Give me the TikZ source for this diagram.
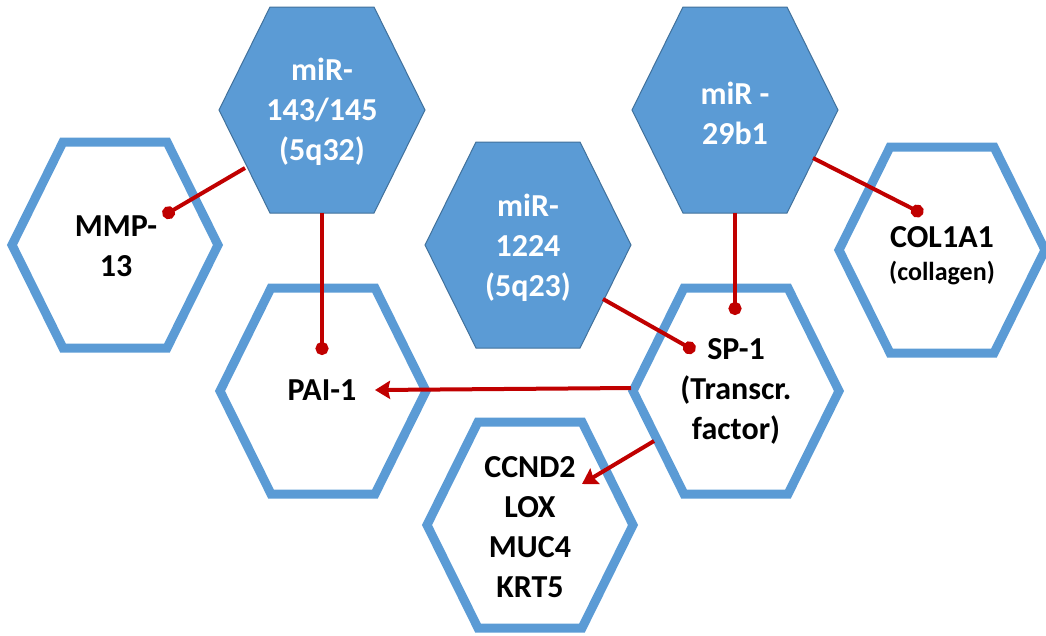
\documentclass[tikz,border=0pt]{standalone}
\usepackage{fontspec}
\setmainfont{Carlito}
\usetikzlibrary{arrows.meta}
\definecolor{hexblue}{HTML}{5B9BD5}
\definecolor{hexedge}{HTML}{41719C}
\definecolor{linkred}{HTML}{C00000}
\tikzset{
	mirhex/.style={fill=hexblue, draw=hexedge, line width=1pt},
	genehex/.style={draw=hexblue, line width=9pt, line join=miter},
	mirtext/.style={text=white, font=\fontsize{32}{40}\selectfont\bfseries, align=center},
	genetext/.style={text=black, font=\fontsize{32}{40}\selectfont\bfseries, align=center},
	inhibit/.style={draw=linkred, line width=4pt, -{Circle[length=13pt]}},
	activate/.style={draw=linkred, line width=4pt, -{Stealth[length=15pt,width=18pt,inset=2pt]}}
}
\newcommand{\hexa}[1]{([shift={(-103,0)}]#1) -- ++(51,-103) -- ++(104,0) -- ++(51,103) -- ++(-51,103) -- ++(-104,0) -- cycle}
\begin{document}
\begin{tikzpicture}[x=1pt, y=-1pt]
				\useasboundingbox (0,0) rectangle (1046,635);
				% hexagon centres
				\coordinate (M143) at (322,110);
				\coordinate (M1224) at (528,245);
				\coordinate (M29) at (735,110);
				\coordinate (MMP) at (115,245);
				\coordinate (PAI) at (323,391);
				\coordinate (SP) at (736,391);
				\coordinate (COL) at (942,250);
				\coordinate (CCN) at (530,525);
				\draw[genehex] \hexa{MMP};
				\draw[genehex] \hexa{PAI};
				\draw[genehex] \hexa{SP};
				\draw[genehex] \hexa{COL};
				\draw[genehex] \hexa{CCN};
				\filldraw[mirhex] \hexa{M143};
				\filldraw[mirhex] \hexa{M1224};
				\filldraw[mirhex] \hexa{M29};
				% labels
				\node[mirtext] (m143txt) at (322,112) {miR-\\143/145\\(5q32)};
				\node[mirtext] (m1224txt) at (528,248) {miR-\\1224\\(5q23)};
				\node[mirtext] (m29txt) at (735,113) {miR -\\29b1};
				\node[genetext] (mmptxt) at (116,246) {MMP-\\13};
				\node[genetext] (paitxt) at (322,390) {PAI-1};
				\node[genetext] (sptxt) at (736,391) {SP-1\\(Transcr.\\factor)};
				\node[genetext] (coltxt) at (942,237) {COL1A1};
				\node[genetext, font=\fontsize{26}{30}\selectfont\bfseries] (collab) at (942,273) {(collagen)};
				\node[genetext] (ccntxt) at (530,527) {CCND2\\LOX\\MUC4\\KRT5};
				% connector ends
				\coordinate (a1) at (245,168);
				\coordinate (b1) at (163,216);
				\coordinate (a2) at (322,213);
				\coordinate (b2) at (322,355);
				\coordinate (a3) at (603,299);
				\coordinate (b3) at (695,351);
				\coordinate (a4) at (735,213);
				\coordinate (b4) at (735,315);
				\coordinate (a5) at (813,158);
				\coordinate (b5) at (923,214);
				\coordinate (a6) at (631,388);
				\coordinate (b6) at (375,390);
				\coordinate (a7) at (654,441);
				\coordinate (b7) at (582,484);
				\draw[inhibit] (a1) -- (b1);
				\draw[inhibit] (a2) -- (b2);
				\draw[inhibit] (a3) -- (b3);
				\draw[inhibit] (a4) -- (b4);
				\draw[inhibit] (a5) -- (b5);
				\draw[activate] (a6) -- (b6);
				\draw[activate] (a7) -- (b7);
\end{tikzpicture}
\end{document}
